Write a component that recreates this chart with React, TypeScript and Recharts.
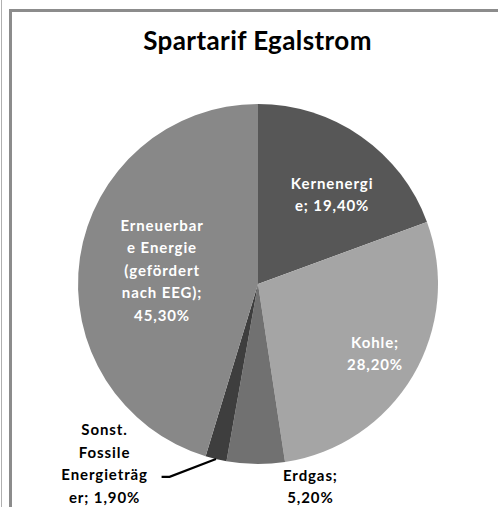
import React from 'react';
import { PieChart, Pie, Cell } from 'recharts';

// share of each energy source, clockwise from 12 o'clock
const sources = ['Kernenergie', 'Kohle', 'Erdgas', 'Sonst. Fossile Energieträger', 'Erneuerbare Energie'];
const shares = [19.4, 28.2, 5.2, 1.9, 45.3];
// label text as Excel wrapped it
const labelLines = [
  ['Kernenergi', 'e; 19,40%'],
  ['Kohle;', '28,20%'],
  ['Erdgas;', '5,20%'],
  ['Sonst.', 'Fossile', 'Energieträg', 'er; 1,90%'],
  ['Erneuerbar', 'e Energie', '(gefördert', 'nach EEG);', '45,30%'],
];

const sliceColors = ['#575757', '#a5a5a5', '#717171', '#3e3e3e', '#888888'];
// where each label block sits: distance along the slice's mid angle, plus a nudge
const labelPlace = [
  { r: 112, dx: 10, dy: 2, fill: '#fff', leader: false },
  { r: 136, dx: 0, dy: 0, fill: '#fff', leader: false },
  { r: 205, dx: 55, dy: -3, fill: '#000', leader: false },
  { r: 186, dx: -110, dy: -2, fill: '#000', leader: true },
  { r: 97, dx: 0, dy: 0, fill: '#fff', leader: false },
];

const data = sources.map((name, i) => ({ name, value: shares[i] }));
const RAD = Math.PI / 180;
const LINE_H = 22.5;

const renderLabel = (props: any) => {
  const { cx, cy, midAngle, outerRadius, index } = props;
  const p = labelPlace[index];
  const cos = Math.cos(-midAngle * RAD);
  const sin = Math.sin(-midAngle * RAD);
  const x = cx + p.r * cos + p.dx;
  const y = cy + p.r * sin + p.dy;
  const lines = labelLines[index];
  const top = y - ((lines.length - 1) * LINE_H) / 2;
  let leader = null;
  if (p.leader) {
    const ex = cx + outerRadius * cos;
    const ey = cy + outerRadius * sin;
    leader = (
      <polyline
        points={`${ex},${ey} ${x + 65},${y + 14} ${x + 57},${y + 14}`}
        fill="none"
        stroke="#000"
        strokeWidth={2.2}
      />
    );
  }
  return (
    <g key={`lbl-${index}`}>
      {leader}
      {lines.map((t, k) => (
        <text
          key={k}
          x={x}
          y={top + k * LINE_H}
          fill={p.fill}
          textAnchor="middle"
          dominantBaseline="central"
          fontFamily="Lato, 'Open Sans', sans-serif"
          fontWeight={700}
          fontSize={15}
          letterSpacing={0.9}
        >
          {t}
        </text>
      ))}
    </g>
  );
};

export default function App() {
  return (
    <div style={{ position: 'absolute', left: 0, top: 0, width: 498, height: 507, background: '#fff', overflow: 'hidden' }}>
      {/* thin rule on the far left */}
      <div style={{ position: 'absolute', left: 1, top: 0, width: 1, height: 507, background: '#b0b0b0' }} />
      {/* chart frame, cut off at right and bottom */}
      <div style={{ position: 'absolute', left: 9, top: 9, width: 600, height: 600, borderLeft: '3px solid #8c8c8c', borderTop: '3px solid #8c8c8c' }} />
      <div
        style={{
          position: 'absolute',
          left: 0,
          top: 24,
          width: 515,
          textAlign: 'center',
          fontFamily: 'Lato, sans-serif',
          fontWeight: 700,
          fontSize: 26,
          letterSpacing: 0.4,
          color: '#000',
        }}
      >
        Spartarif Egalstrom
      </div>
      <div style={{ position: 'absolute', left: 0, top: 0 }}>
        <PieChart width={498} height={507} margin={{ top: 0, right: 0, bottom: 0, left: 0 }}>
          <Pie
            data={data}
            dataKey="value"
            nameKey="name"
            cx={258}
            cy={284}
            outerRadius={180}
            startAngle={90}
            endAngle={-270}
            stroke="none"
            labelLine={false}
            label={renderLabel}
            isAnimationActive={false}
          >
            {data.map((d, i) => (
              <Cell key={d.name} fill={sliceColors[i]} />
            ))}
          </Pie>
        </PieChart>
      </div>
    </div>
  );
}
